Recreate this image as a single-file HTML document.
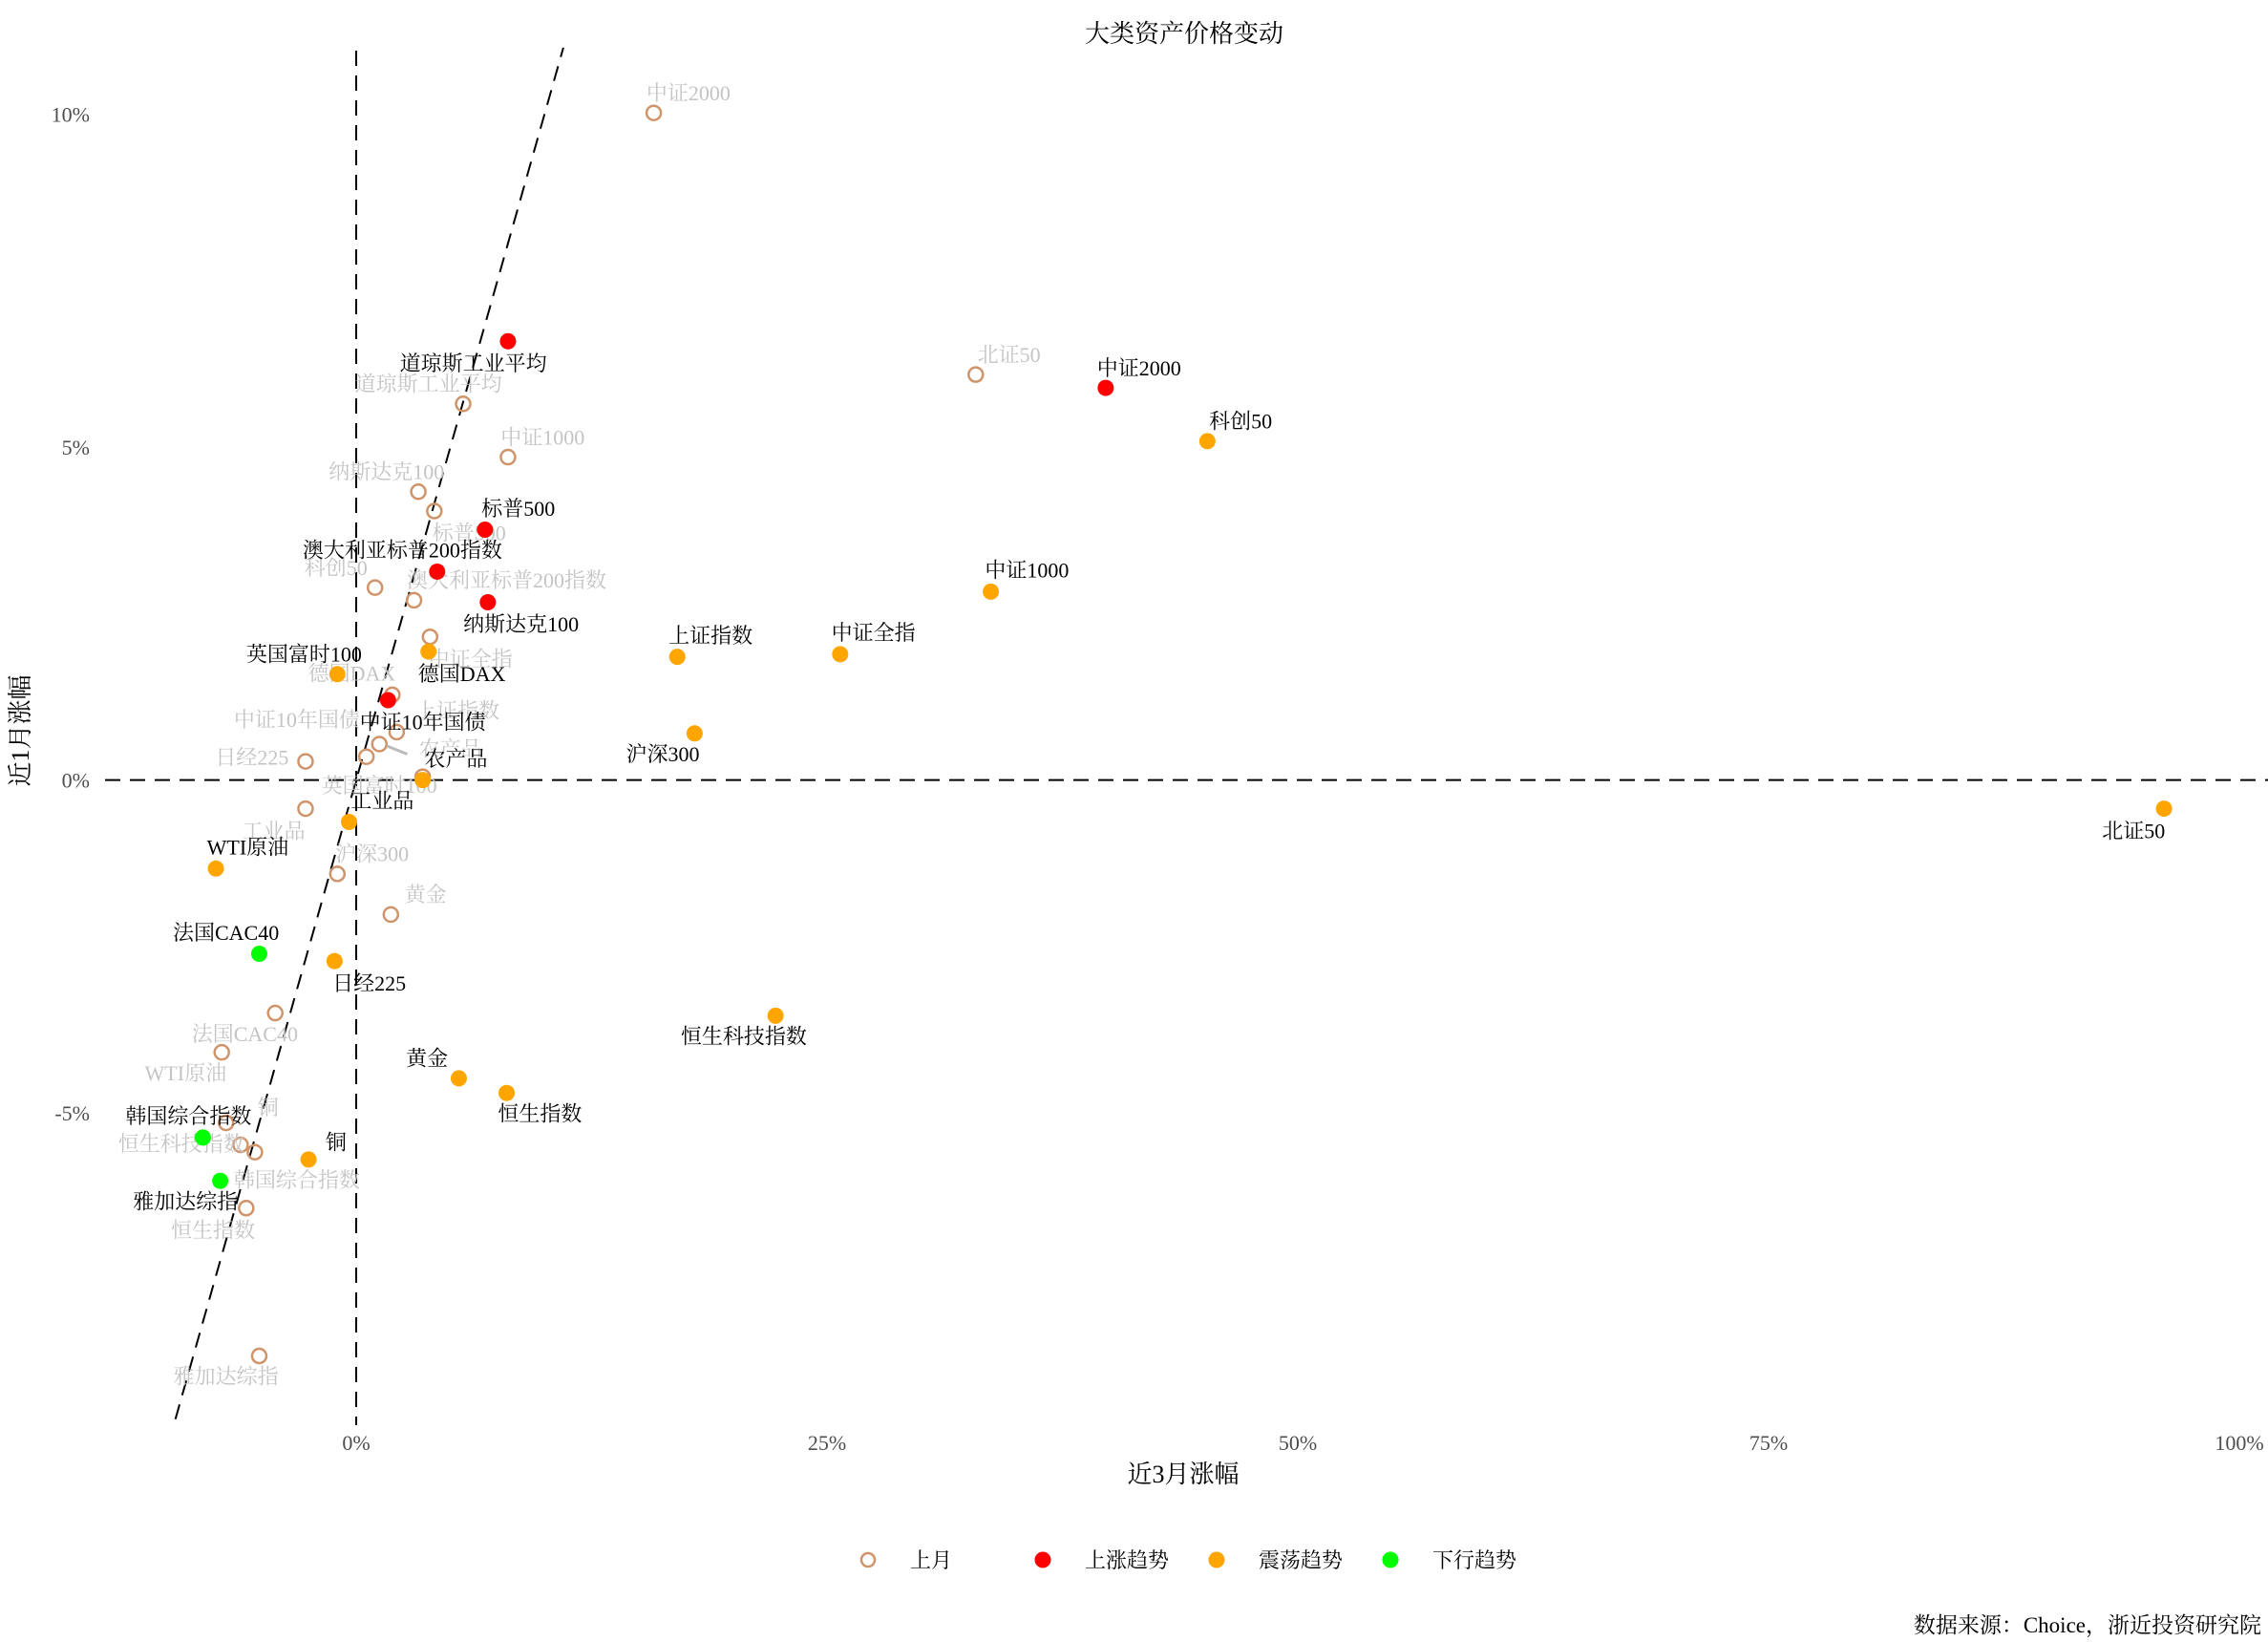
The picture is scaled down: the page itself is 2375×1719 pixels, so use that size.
<!DOCTYPE html>
<html><head><meta charset="utf-8"><style>
html,body{margin:0;padding:0;background:#fff;}
svg{display:block;font-family:"Liberation Serif","Noto Serif CJK SC",serif;}
</style></head><body>
<svg id="chart" width="2375" height="1719" viewBox="0 0 2375 1719" xmlns="http://www.w3.org/2000/svg">
<text x="1240" y="44" font-size="26" text-anchor="middle" fill="#000">大类资产价格变动</text>
<g id="grid"></g>
<g id="marks"></g>
<text x="1239" y="1552" font-size="26" text-anchor="middle" fill="#000">近3月涨幅</text>
<text x="0" y="0" font-size="26" text-anchor="middle" fill="#000" transform="translate(30,765) rotate(-90)">近1月涨幅</text>
<g>
<circle cx="909" cy="1633" r="7" fill="none" stroke="#d0946a" stroke-width="2.5"/>
<text x="953" y="1641" font-size="22">上月</text>
<circle cx="1092" cy="1633" r="8.5" fill="#ff0000"/>
<text x="1136" y="1641" font-size="22">上涨趋势</text>
<circle cx="1274" cy="1633" r="8.5" fill="#ffa500"/>
<text x="1318" y="1641" font-size="22">震荡趋势</text>
<circle cx="1456" cy="1633" r="8.5" fill="#00ff00"/>
<text x="1500" y="1641" font-size="22">下行趋势</text>
</g>
<text x="2368" y="1709" font-size="23" text-anchor="end" fill="#000">数据来源：Choice，浙近投资研究院</text>
</svg>
<script>
const xTicks = [0, 25, 50, 75, 100];
const yTicks = [-5, 0, 5, 10];
const names = ["道琼斯工业平均","中证2000","科创50","标普500","澳大利亚标普200指数","纳斯达克100","中证1000","上证指数","中证全指","英国富时100","德国DAX","中证10年国债","沪深300","农产品","工业品","北证50","WTI原油","法国CAC40","日经225","恒生科技指数","黄金","恒生指数","韩国综合指数","铜","雅加达综指"];
const cur3m = [8.06,39.8,45.2,6.84,4.30,6.99,33.7,17.05,25.7,-1.0,3.84,1.69,17.97,3.53,-0.38,96.0,-7.45,-5.15,-1.15,22.27,5.45,7.99,-8.14,-2.53,-7.22];
const cur1m = [6.59,5.89,5.09,3.76,3.13,2.67,2.83,1.85,1.89,1.59,1.93,1.20,0.70,0.0,-0.63,-0.43,-1.33,-2.61,-2.72,-3.54,-4.48,-4.70,-5.37,-5.70,-6.02];
const trend = ["up","up","range","up","up","up","range","range","range","range","range","up","range","range","range","range","range","down","range","range","range","range","down","range","down"];
const prev3m = [5.68,15.8,1.0,4.15,3.07,3.30,8.06,2.15,3.92,3.53,1.92,0.54,-1.0,1.23,-2.69,32.9,-7.14,-4.3,-2.69,-6.14,1.84,-5.84,-5.38,-6.91,-5.15];
const prev1m = [5.65,10.02,2.89,4.04,2.70,4.33,4.85,0.72,2.15,0.05,1.28,0.35,-1.41,0.54,-0.43,6.09,-4.09,-3.5,0.28,-5.48,-2.02,-6.43,-5.59,-5.15,-8.65];
// label offsets (layout only, screen px at reduced scale)
const curOff = [[-24,15],[23,-14],[23,-14],[23,-15],[-24,-15],[23,15],[25,-15],[23,-15],[23,-15],[-23,-14],[23,15],[24,15],[-22,14],[23,-15],[23,-15],[-21,15],[22,-15],[-23,-15],[24,15],[-22,14],[-22,-14],[23,14],[-10,-15],[19,-12],[-24,14]];
const prevOff = [[-24,-14],[24,-14],[-27,-14],[24,15],[64,-14],[-22,-14],[24,-14],[42,-15],[28,15],[-30,6],[-28,-15],[-48,-26],[24,-14],[49,3],[-22,15],[23,-14],[-25,14],[-21,14],[-37,-3],[-41,-1],[24,-14],[-23,15],[29,19],[29,-11],[-23,14]];
const S = 1.515;
const X0 = 373, XU = 19.72, Y0 = 816.6, YU = 69.7;
function xs(v){ return X0 + v*XU; }
function ys(v){ return Y0 - v*YU; }
const NS = "http://www.w3.org/2000/svg";
const colors = {up:"#ff0000", range:"#ffa500", down:"#00ff00"};
const grid = document.getElementById("grid");
const marks = document.getElementById("marks");
function mk(tag, attrs, parent){ const e=document.createElementNS(NS,tag); for(const k in attrs) e.setAttribute(k,attrs[k]); parent.appendChild(e); return e; }
xTicks.forEach(t=>{
  const e = mk("text",{x:xs(t),y:1518,"font-size":22,"text-anchor":"middle",fill:"#4d4d4d"},grid);
  e.textContent = t+"%";
  
  
});
yTicks.forEach(t=>{
  const e = mk("text",{x:94,y:ys(t)+8,"font-size":22,"text-anchor":"end",fill:"#4d4d4d"},grid);
  e.textContent = t+"%";
  
  
});
let l = mk("line",{x1:xs(0),y1:53,x2:xs(0),y2:1492,stroke:"#000","stroke-width":2,"stroke-dasharray":"16,10"},grid);


l = mk("line",{x1:110,y1:ys(0),x2:2375,y2:ys(0),stroke:"#000","stroke-width":2,"stroke-dasharray":"16,10"},grid);


l = mk("line",{x1:xs(-9.6),y1:ys(-9.6),x2:xs(11),y2:ys(11),stroke:"#000","stroke-width":2,"stroke-dasharray":"16,10"},grid);


// previous month
names.forEach((n,i)=>{
  const cx = xs(prev3m[i]), cy = ys(prev1m[i]);
  const c = mk("circle",{cx:cx,cy:cy,r:7.5,fill:"none",stroke:"#d0946a","stroke-width":2.5},marks);
  
  
  const tx = cx + prevOff[i][0]*S, ty = cy + prevOff[i][1]*S;
  if(n==="农产品"){
    const ll = mk("line",{x1:cx+8,y1:cy+2,x2:tx-45,y2:ty+6,stroke:"#bbbbbb","stroke-width":3},marks);
    
    
  }
  const t = mk("text",{x:tx,y:ty+8,"font-size":22,"text-anchor":"middle",fill:"#c4c4c4"},marks);
  t.textContent = n;
  
  
});
// current
names.forEach((n,i)=>{
  const cx = xs(cur3m[i]), cy = ys(cur1m[i]);
  const c = mk("circle",{cx:cx,cy:cy,r:8.5,fill:colors[trend[i]]},marks);
  
  
  const t = mk("text",{x:cx+curOff[i][0]*S,y:cy+curOff[i][1]*S+8,"font-size":22,"text-anchor":"middle",fill:"#000"},marks);
  t.textContent = n;
  
  
});
</script>
</body></html>
